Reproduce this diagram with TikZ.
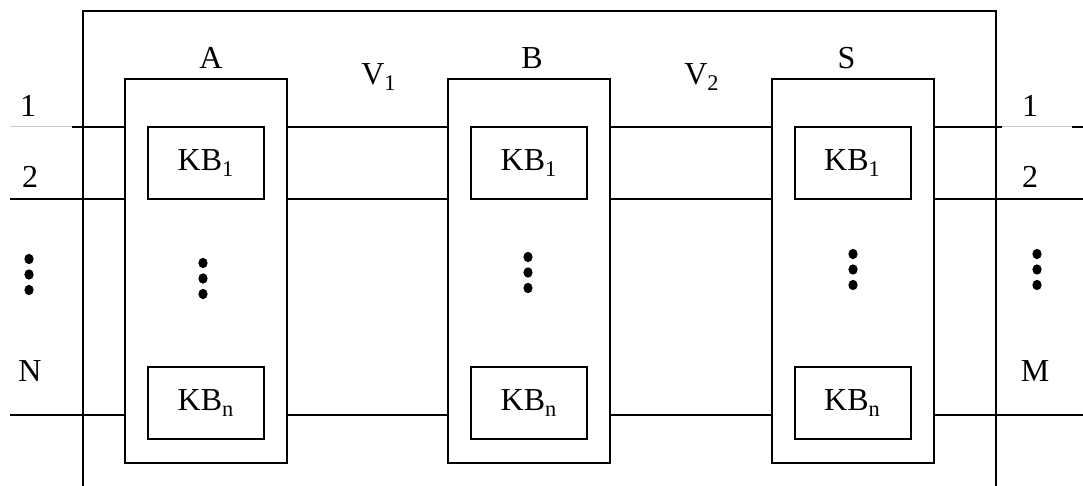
\documentclass[tikz,border=0pt]{standalone}
\usepackage{fontspec}
\setmainfont{Liberation Serif}
\usetikzlibrary{positioning}

\tikzset{
    unit/.style={draw, line width=1pt, minimum width=81pt, minimum height=192pt, inner sep=0pt},
    kb/.style={draw, line width=1pt, minimum width=58pt, minimum height=36pt, inner sep=0pt, font=\fontsize{16}{18}\selectfont},
    wire/.style={line width=1pt},
    faint/.style={line width=0.5pt, black!20},
    lbl/.style={font=\fontsize{16}{18}\selectfont, inner sep=0pt},
    vdot/.style={fill=black, x radius=2.3pt, y radius=2.6pt}
}

\begin{document}
\begin{tikzpicture}[x=0.5pt, y=-0.5pt]
    \useasboundingbox (0, 0) rectangle (1083, 486);
    % frame
    \draw[wire] (83, 486) -- (83, 11) -- (996, 11) -- (996, 486);
    % units with their key blocks
    \foreach \u/\x/\d in {A/206/5, B/529/3, S/852.5/-6} {
        \node[unit] (\u) at (\x, 271) {};
        \node[lbl, above=4.5pt of \u, xshift=\d*0.5pt] {\u};
        \node[kb] (\u-1) at (\x, 163) {KB\textsubscript{1}};
        \node[kb] (\u-n) at (\x, 403) {KB\textsubscript{n}};
    }
    \node[lbl, anchor=base] (v1) at (379, 85) {V\textsubscript{1}};
    \node[lbl, anchor=base] (v2) at (702, 85) {V\textsubscript{2}};
    % inputs and outputs
    \node[lbl, anchor=base] (i1) at (28, 117) {1};
    \node[lbl, anchor=base] (i2) at (30, 188) {2};
    \node[lbl, anchor=base] (iN) at (30, 382) {N};
    \node[lbl, anchor=base] (o1) at (1030, 117) {1};
    \node[lbl, anchor=base] (o2) at (1030, 188) {2};
    \node[lbl, anchor=base] (oM) at (1035, 382) {M};
    \coordinate (in1) at (10, 127);
    \coordinate (in1b) at (72, 127);
    \coordinate (in2) at (10, 199);
    \coordinate (inN) at (10, 415);
    \coordinate (out1a) at (1002, 127);
    \coordinate (out1b) at (1072, 127);
    \coordinate (out1) at (1083, 127);
    \coordinate (out2) at (1083, 199);
    \coordinate (outM) at (1083, 415);
    % wires
    \draw[faint] (in1) -- (in1b);
    \draw[wire] (in1b) -- (A.west |- in1);
    \draw[wire] (in2) -- (A.west |- in2);
    \draw[wire] (inN) -- (A.west |- inN);
    \foreach \p/\q in {A/B, B/S} {
        \draw[wire] (\p.east |- in1) -- (\q.west |- in1);
        \draw[wire] (\p.east |- in2) -- (\q.west |- in2);
        \draw[wire] (\p.east |- inN) -- (\q.west |- inN);
    }
    \draw[wire] (S.east |- in1) -- (out1a);
    \draw[faint] (out1a) -- (out1b);
    \draw[wire] (out1b) -- (out1);
    \draw[wire] (S.east |- in2) -- (out2);
    \draw[wire] (S.east |- inN) -- (outM);
    % vertical dots
    \foreach \x/\y in {29/259, 203/263, 528/257, 853/254, 1037/254} {
        \foreach \k in {0, 1, 2}
            \fill[vdot] (\x, \y + 15.5*\k) ellipse [];
    }
\end{tikzpicture}
\end{document}
